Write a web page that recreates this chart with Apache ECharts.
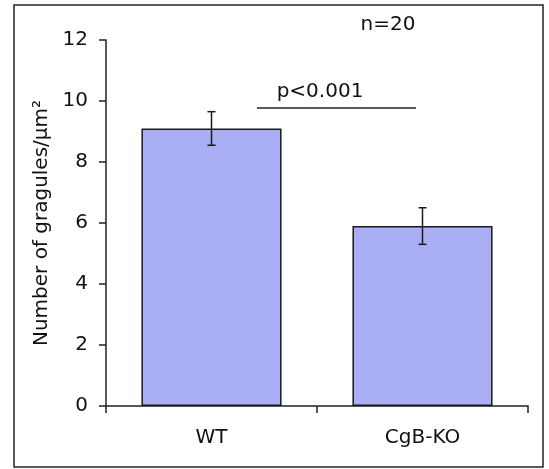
<!DOCTYPE html>
<html>
<head>
<meta charset="utf-8">
<script src="https://cdn.jsdelivr.net/npm/echarts@6/dist/echarts.min.js"></script>
<style>
html,body{margin:0;padding:0;background:#fff;}
#c{width:549px;height:469px;}
</style>
</head>
<body>
<div id="c"></div>
<script>
var categories = ['WT', 'CgB-KO'];
var means = [9.1, 5.9];
var errLow = [8.55, 5.3];
var errHigh = [9.65, 6.5];
var yTicks = [0, 2, 4, 6, 8, 10, 12];

var chart = echarts.init(document.getElementById('c'), null, {renderer: 'canvas'});
var font = 'DejaVu Sans, Verdana, sans-serif';
var txt = '#111';

var errData = categories.map(function (c, i) { return [i, errLow[i], errHigh[i]]; });

chart.setOption({
  animation: false,
  backgroundColor: '#fff',
  grid: {left: 106, right: 21, top: 40, bottom: 63},
  xAxis: {
    type: 'category',
    data: categories,
    boundaryGap: true,
    axisLine: {lineStyle: {color: '#222', width: 1.5}},
    axisTick: {show: true, length: 7, lineStyle: {color: '#222', width: 1.5}},
    axisLabel: {color: txt, fontFamily: font, fontSize: 20, margin: 22}
  },
  yAxis: {
    type: 'value',
    min: yTicks[0],
    max: yTicks[yTicks.length - 1],
    interval: 2,
    name: 'Number of gragules/\u03bcm\u00b2',
    nameLocation: 'middle',
    nameGap: 54,
    nameTextStyle: {color: txt, fontFamily: font, fontSize: 20},
    axisLine: {show: true, lineStyle: {color: '#222', width: 1.5}},
    axisTick: {show: true, length: 7, lineStyle: {color: '#222', width: 1.5}},
    axisLabel: {color: txt, fontFamily: font, fontSize: 20, margin: 18},
    splitLine: {show: false}
  },
  series: [
    {
      type: 'bar',
      data: means,
      barCategoryGap: '33.6%',
      itemStyle: {color: '#aaaef5', borderColor: '#1a1a1a', borderWidth: 1.5}
    },
    {
      type: 'custom',
      data: errData,
      z: 10,
      renderItem: function (params, api) {
        var x = api.value(0);
        var lo = api.coord([x, api.value(1)]);
        var hi = api.coord([x, api.value(2)]);
        var w = 4;
        var st = {stroke: '#1a1a1a', lineWidth: 1.5};
        return {
          type: 'group',
          children: [
            {type: 'line', shape: {x1: lo[0], y1: lo[1], x2: hi[0], y2: hi[1]}, style: st},
            {type: 'line', shape: {x1: lo[0] - w, y1: lo[1], x2: lo[0] + w, y2: lo[1]}, style: st},
            {type: 'line', shape: {x1: hi[0] - w, y1: hi[1], x2: hi[0] + w, y2: hi[1]}, style: st}
          ]
        };
      }
    }
  ],
  graphic: [
    {type: 'rect', shape: {x: 14, y: 5, width: 529, height: 462}, style: {fill: 'none', stroke: '#222', lineWidth: 1.5}, z: 100},
    {type: 'line', shape: {x1: 257, y1: 108, x2: 416, y2: 108}, style: {stroke: '#222', lineWidth: 1.5}},
    {type: 'text', x: 320, y: 92, style: {text: 'p<0.001', fill: txt, font: '20px ' + font, textAlign: 'center', textVerticalAlign: 'middle'}},
    {type: 'text', x: 388, y: 25, style: {text: 'n=20', fill: txt, font: '20px ' + font, textAlign: 'center', textVerticalAlign: 'middle'}}
  ]
});
</script>
</body>
</html>
